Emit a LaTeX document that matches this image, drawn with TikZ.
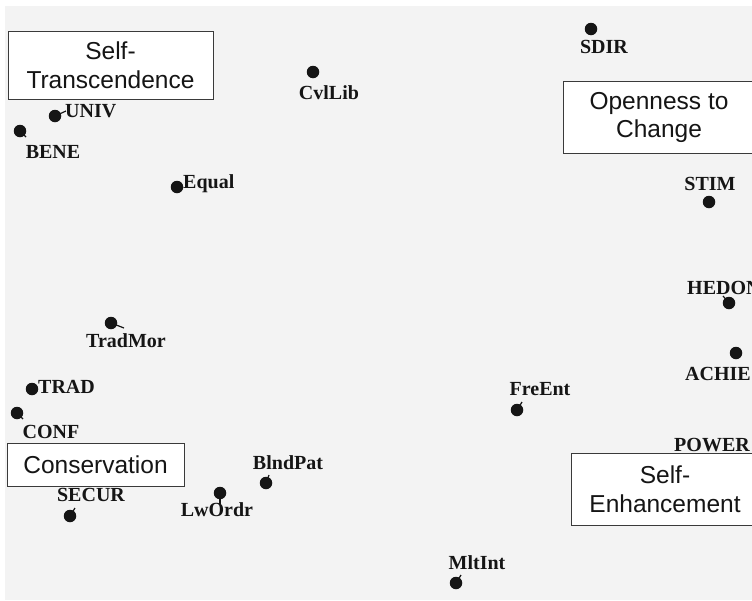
\documentclass[tikz,border=0pt]{standalone}
\usepackage{fontspec}
\setmainfont{Liberation Serif}
\newfontfamily\boxfont{Liberation Sans}
\definecolor{bggray}{HTML}{F3F3F3}
\definecolor{ink}{HTML}{151515}
\definecolor{frame}{HTML}{3A3A3A}
\begin{document}
\begin{tikzpicture}[x=1pt,y=-1pt,
  dot/.style={circle,fill=ink,inner sep=0pt,minimum size=12.5pt},
  lbl/.style={inner sep=0pt,text=ink,font=\bfseries\fontsize{20}{20}\selectfont},
  tick/.style={draw=ink,line width=1.2pt},
  region/.style={draw=frame,line width=0.9pt,fill=white,inner sep=0pt,align=center,
    text=ink,font=\boxfont\fontsize{24.5}{28.5}\selectfont}]
\useasboundingbox (0,0) rectangle (752,600);
\fill[bggray] (5,6) rectangle (752,600);

% region boxes
\node[region,minimum width=205pt,minimum height=68pt] (st) at (110.5,65) {Self-\\Transcendence};
\node[region,minimum width=192pt,minimum height=72pt] (oc) at (659,117.5) {Openness to\\Change};
\node[region,minimum width=177pt,minimum height=43pt] (cons) at (95.5,464.5) {Conservation};
\node[region,minimum width=188pt,minimum height=72pt] (se) at (665,489) {Self-\\Enhancement};

% dots
\node[dot] (sdir) at (591,29) {};
\node[dot] (cvl) at (313,72) {};
\node[dot] (univ) at (55,116) {};
\node[dot] (bene) at (20,131) {};
\node[dot] (equal) at (177,187) {};
\node[dot] (stim) at (709,202) {};
\node[dot] (hedon) at (729,303) {};
\node[dot] (achie) at (736,353) {};
\node[dot] (tradmor) at (111,323) {};
\node[dot] (trad) at (32,389) {};
\node[dot] (conf) at (17,413) {};
\node[dot] (secur) at (70,516) {};
\node[dot] (lword) at (220,493) {};
\node[dot] (blnd) at (266,483) {};
\node[dot] (freent) at (517,410) {};
\node[dot] (mlt) at (456,583) {};

% leader ticks
\coordinate (tuniv) at (66,111);
\coordinate (tbene) at (26,137);
\coordinate (ttradmor) at (124,328);
\coordinate (tconf) at (23,419);
\coordinate (tsecur) at (75,508);
\coordinate (tlword) at (220,504);
\coordinate (tblnd) at (269,475);
\coordinate (tfreent) at (522,402);
\coordinate (tmlt) at (461,575);
\coordinate (thedon) at (723,296);
\draw[tick] (univ.center) -- (tuniv);
\draw[tick] (bene.center) -- (tbene);
\draw[tick] (tradmor.center) -- (ttradmor);
\draw[tick] (conf.center) -- (tconf);
\draw[tick] (secur.center) -- (tsecur);
\draw[tick] (lword.center) -- (tlword);
\draw[tick] (blnd.center) -- (tblnd);
\draw[tick] (freent.center) -- (tfreent);
\draw[tick] (mlt.center) -- (tmlt);
\draw[tick] (hedon.center) -- (thedon);

% labels
\node[lbl] (lsdir) at (604,47) {SDIR};
\node[lbl] (lcvl) at (329,93) {CvlLib};
\node[lbl,anchor=west] (luniv) at (65,111) {UNIV};
\node[lbl] (lbene) at (53,152) {BENE};
\node[lbl,anchor=west] (lequal) at (183,184) {Equal};
\node[lbl] (lstim) at (710,184) {STIM};
\node[lbl,anchor=west] (lhedon) at (687,288) {HEDON};
\node[lbl] (lachie) at (718,374) {ACHIE};
\node[lbl] (ltradmor) at (126,341) {TradMor};
\node[lbl,anchor=west] (ltrad) at (38,387) {TRAD};
\node[lbl] (lconf) at (51,432) {CONF};
\node[lbl] (lpower) at (712,445) {POWER};
\node[lbl] (lsecur) at (91,495) {SECUR};
\node[lbl] (llword) at (217,510) {LwOrdr};
\node[lbl] (lblnd) at (288,463) {BlndPat};
\node[lbl] (lfreent) at (540,389) {FreEnt};
\node[lbl] (lmlt) at (477,563) {MltInt};
\end{tikzpicture}
\end{document}
